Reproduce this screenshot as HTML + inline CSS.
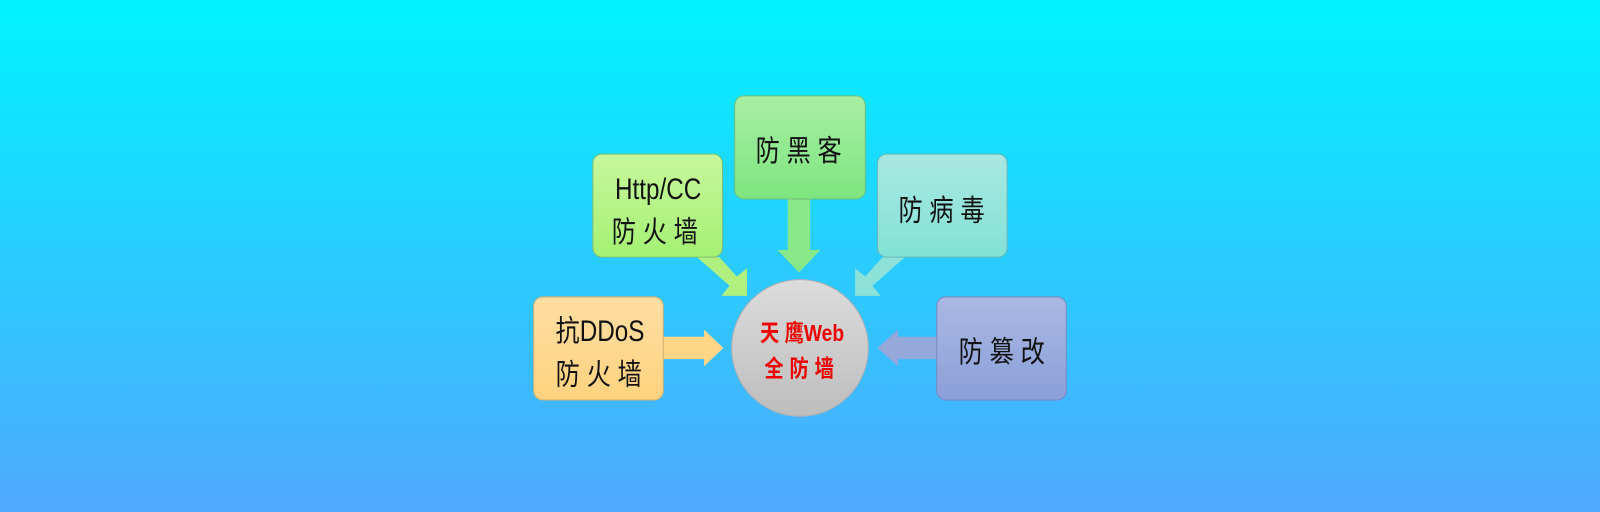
<!DOCTYPE html>
<html><head><meta charset="utf-8"><style>
html,body{margin:0;padding:0;width:1600px;height:512px;overflow:hidden}
svg{display:block}
text{font-family:"Liberation Sans","Noto Sans CJK SC",sans-serif}
</style></head><body>
<svg width="1600" height="512" viewBox="0 0 1600 512" xmlns="http://www.w3.org/2000/svg">
<defs>
<linearGradient id="bg" x1="0" y1="0" x2="0" y2="1"><stop offset="0" stop-color="#00f4ff"/><stop offset="0.5" stop-color="#28cdff"/><stop offset="1" stop-color="#50a9ff"/></linearGradient>
<linearGradient id="g1" x1="0" y1="0" x2="0" y2="1"><stop offset="0" stop-color="#c8f79c"/><stop offset="1" stop-color="#a4f173"/></linearGradient>
<linearGradient id="g2" x1="0" y1="0" x2="0" y2="1"><stop offset="0" stop-color="#a8eea4"/><stop offset="1" stop-color="#7de67f"/></linearGradient>
<linearGradient id="g3" x1="0" y1="0" x2="0" y2="1"><stop offset="0" stop-color="#a9e9e2"/><stop offset="1" stop-color="#82e1d6"/></linearGradient>
<linearGradient id="g4" x1="0" y1="0" x2="0" y2="1"><stop offset="0" stop-color="#ffdfa4"/><stop offset="1" stop-color="#ffd27e"/></linearGradient>
<linearGradient id="g5" x1="0" y1="0" x2="0" y2="1"><stop offset="0" stop-color="#aab8e4"/><stop offset="1" stop-color="#8a9fd8"/></linearGradient>
<linearGradient id="gc" x1="0" y1="0" x2="0" y2="1"><stop offset="0" stop-color="#dcdcdc"/><stop offset="1" stop-color="#bdbdbd"/></linearGradient>
</defs>
<rect width="1600" height="512" fill="url(#bg)"/>
<g transform="scale(1.0204)">
<polygon points="772,195 794,195 794,245 804,245 783,267 762,245 772,245" fill="#88e888"/>
<polygon points="650,330 690,330 690,323 709,341 690,359 690,352 650,352" fill="#ffd688"/>
<polygon points="918,330 880,330 880,323 860,341 880,359 880,352 918,352" fill="#94a8dc"/>
<polygon points="683,252 705,252 722,271 732,263 732,290 707,290 715,280" fill="#b0f07e"/>
<polygon points="887,252 865,252 848,271 838,263 838,290 863,290 855,280" fill="#8ce2d8"/>
<rect x="581" y="151" width="127" height="101" rx="9" fill="url(#g1)" stroke="#7fbf70" stroke-width="1"/>
<rect x="720" y="94" width="128" height="101" rx="9" fill="url(#g2)" stroke="#6fbf78" stroke-width="1"/>
<rect x="860" y="151" width="127" height="101" rx="9" fill="url(#g3)" stroke="#6ab8b8" stroke-width="1"/>
<rect x="523" y="291" width="127" height="101" rx="9" fill="url(#g4)" stroke="#d0b070" stroke-width="1"/>
<rect x="918" y="291" width="127" height="101" rx="9" fill="url(#g5)" stroke="#7a88c0" stroke-width="1"/>
<circle cx="784" cy="341" r="67" fill="url(#gc)" stroke="#b0b0b0" stroke-width="1"/>
<g font-size="29" fill="#111" text-anchor="middle">
<text transform="translate(645 195) scale(0.82 1)">Http/CC</text>
<text transform="translate(645 237) scale(0.82 1)" letter-spacing="8">防火墙</text>
<text transform="translate(786 158) scale(0.82 1)" letter-spacing="8">防黑客</text>
<text transform="translate(926 216) scale(0.82 1)" letter-spacing="8">防病毒</text>
<text transform="translate(588 334) scale(0.82 1)">抗DDoS</text>
<text transform="translate(590 377) scale(0.82 1)" letter-spacing="8">防火墙</text>
<text transform="translate(985 355) scale(0.82 1)" letter-spacing="8">防篡改</text>
</g>
<g font-size="23" font-weight="bold" fill="#ee0000" text-anchor="middle">
<text transform="translate(786 334) scale(0.82 1)">天 鹰Web</text>
<text transform="translate(786 369) scale(0.82 1)" letter-spacing="7">全防墙</text>
</g>
</g>
</svg>
</body></html>
